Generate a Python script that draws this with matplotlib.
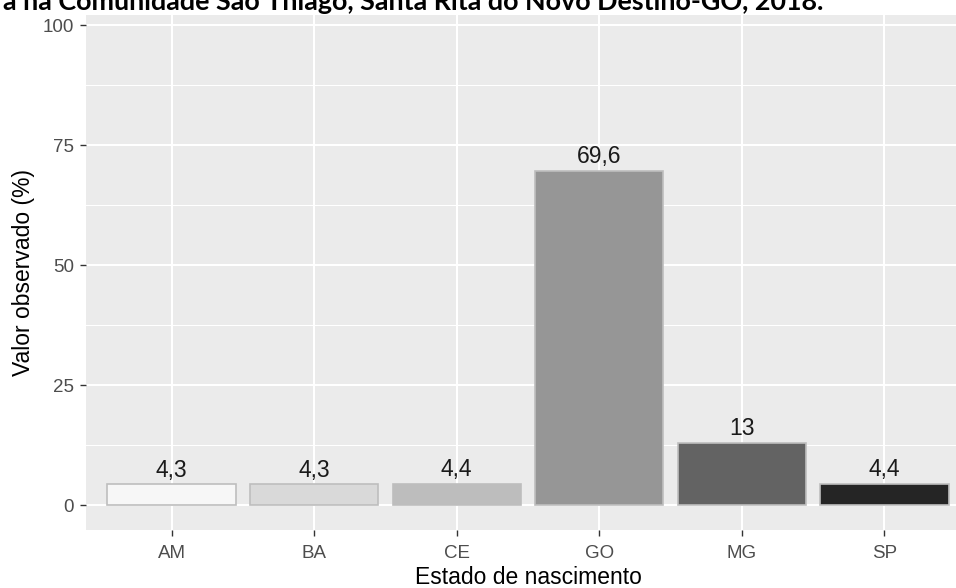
import matplotlib
matplotlib.use("Agg")
import matplotlib.pyplot as plt
from matplotlib.ticker import MultipleLocator

# data
estados = ["AM", "BA", "CE", "GO", "MG", "SP"]
valores = [4.3, 4.3, 4.4, 69.6, 13, 4.4]
rotulos = ["4,3", "4,3", "4,4", "69,6", "13", "4,4"]
cores = ["#F7F7F7", "#D9D9D9", "#BDBDBD", "#969696", "#636363", "#252525"]
titulo = "a na Comunidade São Thiago, Santa Rita do Novo Destino-GO, 2018."

W, H = 956, 588
fig = plt.figure(figsize=(W / 100, H / 100), dpi=100)
plt.rcParams['font.family'] = ['Liberation Sans', 'DejaVu Sans']

# panel runs past the right border, like the cropped original
left, right, top, bottom = 86, 970, 15, 530
ax = fig.add_axes([left / W, 1 - bottom / H, (right - left) / W, (bottom - top) / H])
ax.set_facecolor("#EBEBEB")

x = range(len(estados))
ax.bar(x, valores, width=0.9, color=cores, edgecolor="#BEBEBE", linewidth=1.2, zorder=3)
for xi, v, lab in zip(x, valores, rotulos):
    ax.annotate(lab, (xi, v), xytext=(0, 2), textcoords="offset points",
                ha="center", va="bottom", fontsize=16.5, color="#1A1A1A", zorder=4)

ax.set_xlim(-0.6, 5.6)
ax.set_ylim(-5.2, 102.1)
ax.set_xticks(list(x))
ax.set_xticklabels(estados)
ax.yaxis.set_major_locator(MultipleLocator(25))
ax.yaxis.set_minor_locator(MultipleLocator(12.5))
ax.grid(which="major", color="white", linewidth=1.5, zorder=0)
ax.grid(which="minor", axis="y", color="white", linewidth=0.75, zorder=0)
ax.set_axisbelow(True)
for s in ax.spines.values():
    s.set_visible(False)
ax.tick_params(which="major", length=4.3, width=1, color="#333333", pad=4.5,
               labelsize=13.5, labelcolor="#4D4D4D")
ax.tick_params(axis="x", pad=6.5)
ax.tick_params(which="minor", length=0)

ax.set_xlabel("Estado de nascimento", fontsize=16.5, color="black", labelpad=3)
ax.set_ylabel("Valor observado (%)", fontsize=16.5, color="black", labelpad=5)

fig.text(823 / W, 1 - 10 / H, titulo, ha="right", va="baseline",
         fontsize=19.4, fontweight="bold", family=["Lato", "DejaVu Sans"])

fig.savefig("out.png", dpi=100)
